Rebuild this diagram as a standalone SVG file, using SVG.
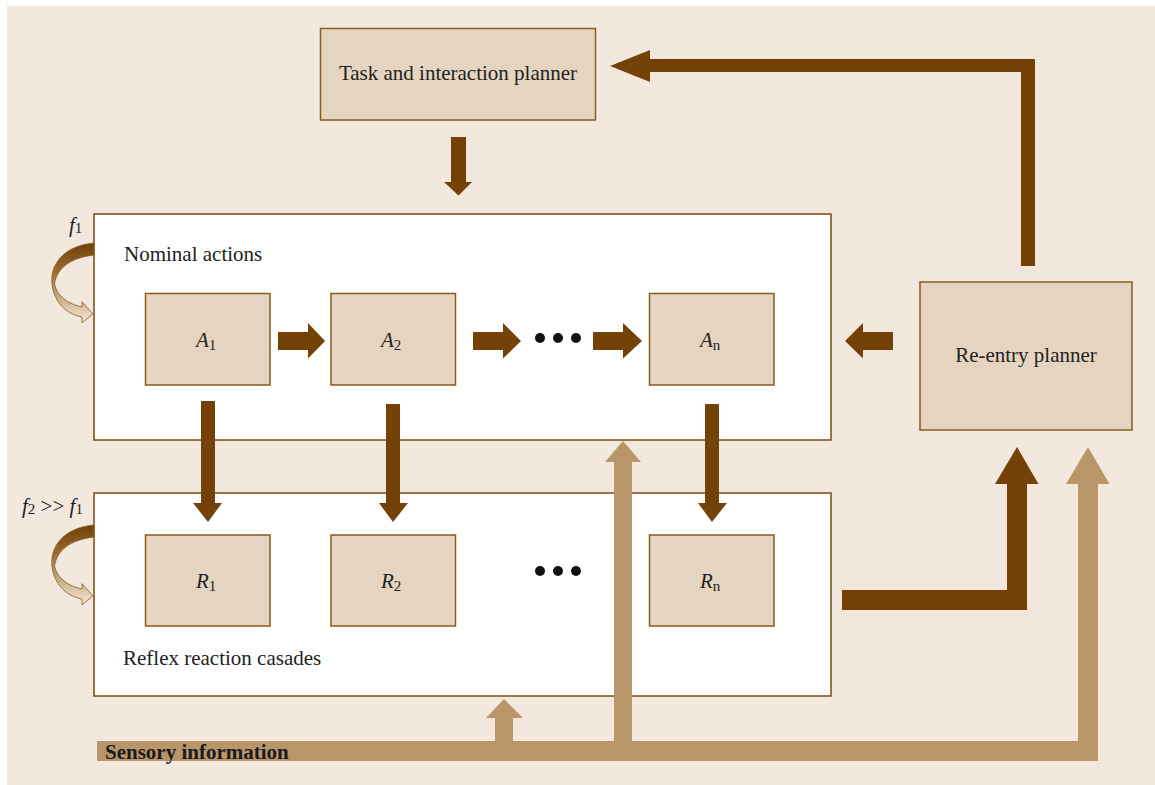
<svg xmlns="http://www.w3.org/2000/svg" width="1155" height="785" viewBox="0 0 1155 785">
<defs>
<style>
.box{fill:#e5d5c0;stroke:#8a5a1e;stroke-width:1.5}
.big{fill:#ffffff;stroke:#7a4a12;stroke-width:1.5}
.t{font-family:"Liberation Serif","Times New Roman",serif;font-size:21px;fill:#222}
.it{font-style:italic}
.sub{font-size:15px}
.dark{fill:#744206}
.light{fill:#b8966a}
.dot{fill:#111}
.sens{font-family:"Liberation Serif","Times New Roman",serif;font-size:21px;font-weight:bold;fill:#1a1a1a}
</style>
<linearGradient id="curl" x1="0" y1="0" x2="0" y2="1">
<stop offset="0" stop-color="#6e3f08"/>
<stop offset="0.35" stop-color="#9a6a30"/>
<stop offset="1" stop-color="#f7ead6"/>
</linearGradient>
<path id="curlshape" d="M94,243 C62,246 50,266 52,284 C54,302 66,314 82,317 L82,322.7 L93,314 L82,301.7 L82,307 C68,304 57,296 54.5,284 C57,268 70,258 94,255 Z" fill="url(#curl)" stroke="#8a5a1e" stroke-width="0.8"/>
</defs>
<rect x="7" y="6" width="1148" height="779" fill="#f2e8de"/>

<g id="nominal">
<rect class="big" x="94" y="214" width="737" height="226"/>
<text class="t" x="124" y="261">Nominal actions</text>
</g>
<g id="reflex">
<rect class="big" x="94" y="493" width="737" height="203"/>
<text class="t" x="123" y="665">Reflex reaction casades</text>
</g>
<g id="task">
<rect class="box" x="320.5" y="28.5" width="275" height="91.5"/>
<text class="t" x="458" y="80" text-anchor="middle">Task and interaction planner</text>
</g>
<g id="reentry">
<rect class="box" x="920" y="282" width="212" height="148"/>
<text class="t" x="1026" y="362" text-anchor="middle">Re-entry planner</text>
</g>
<g id="A1">
<rect class="box" x="145.5" y="293.5" width="124.5" height="91.5"/>
<text class="t" x="196" y="347"><tspan class="it">A</tspan><tspan class="sub" dy="3">1</tspan></text>
</g>
<g id="A2">
<rect class="box" x="331" y="293.5" width="124.5" height="91.5"/>
<text class="t" x="381" y="347"><tspan class="it">A</tspan><tspan class="sub" dy="3">2</tspan></text>
</g>
<g id="An">
<rect class="box" x="649.5" y="293.5" width="124.5" height="91.5"/>
<text class="t" x="700" y="347"><tspan class="it">A</tspan><tspan class="sub" dy="3">n</tspan></text>
</g>
<g id="R1">
<rect class="box" x="145.5" y="535" width="124.5" height="91"/>
<text class="t" x="196" y="588"><tspan class="it">R</tspan><tspan class="sub" dy="3">1</tspan></text>
</g>
<g id="R2">
<rect class="box" x="331" y="535" width="124.5" height="91"/>
<text class="t" x="381" y="588"><tspan class="it">R</tspan><tspan class="sub" dy="3">2</tspan></text>
</g>
<g id="Rn">
<rect class="box" x="649.5" y="535" width="124.5" height="91"/>
<text class="t" x="700" y="588"><tspan class="it">R</tspan><tspan class="sub" dy="3">n</tspan></text>
</g>

<g id="dots">
<circle class="dot" cx="540" cy="338" r="5"/>
<circle class="dot" cx="558" cy="338" r="5"/>
<circle class="dot" cx="576" cy="338" r="5"/>
<circle class="dot" cx="540" cy="571" r="5"/>
<circle class="dot" cx="558" cy="571" r="5"/>
<circle class="dot" cx="576" cy="571" r="5"/>
</g>

<g id="freq">
<use href="#curlshape"/>
<use href="#curlshape" transform="translate(0,282)"/>
<text class="t" x="69" y="232"><tspan class="it">f</tspan><tspan class="sub" dy="1">1</tspan></text>
<text class="t" x="22" y="513"><tspan class="it">f</tspan><tspan class="sub" dy="1">2</tspan><tspan dy="-1"> &gt;&gt; </tspan><tspan class="it">f</tspan><tspan class="sub" dy="1">1</tspan></text>
</g>

<g id="connectors">
<polygon class="dark" points="451,137 466,137 466,182 472,182 458.5,195.5 444,182 451,182"/>
<polygon class="dark" points="1021,266 1035,266 1035,59 650,59 650,50 610,66 650,82 650,72 1021,72"/>
<polygon class="dark" points="278,332 308,332 308,323 325,341 308,358.5 308,350 278,350"/>
<polygon class="dark" points="473,332 503,332 503,323 521,341 503,358.5 503,350 473,350"/>
<polygon class="dark" points="593,332 623,332 623,323 642,341 623,358.5 623,350 593,350"/>
<polygon class="dark" points="893,332 863,332 863,323 845,341 863,358.5 863,350 893,350"/>
<polygon class="dark" points="201,401 215,401 215,503 222,503 208,522 193,503 201,503"/>
<polygon class="dark" points="386,404 400,404 400,503 408,503 393,522 379,503 386,503"/>
<polygon class="dark" points="705,404 719,404 719,503 727,503 712,522 698,503 705,503"/>
<polygon class="dark" points="842,590 1007,590 1007,484 995,484 1017,447 1038.5,484 1027,484 1027,610 842,610"/>
<polygon class="light" points="97,741 614,741 614,462 605,462 623,441 641,462 632,462 632,741 1078,741 1078,484 1066,484 1088,447 1109.5,484 1098,484 1098,761 97,761"/>
<polygon class="light" points="495,741 495,718 486,718 504,699 523,718 513,718 513,741"/>
</g>
<text class="sens" x="105" y="759">Sensory information</text>
</svg>
